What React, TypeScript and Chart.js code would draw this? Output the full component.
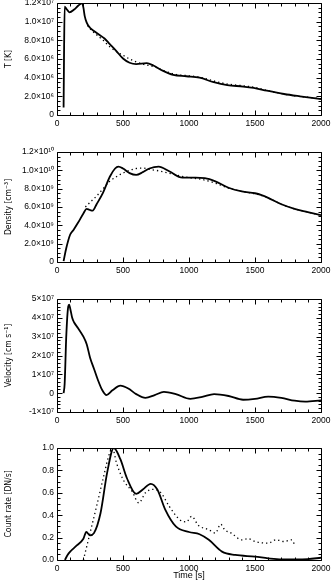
import React, { useEffect, useRef } from 'react';
import { Chart, registerables } from 'chart.js';
Chart.register(...registerables);

// ---------- Data ----------
// Panel 1: temperature (K)
const tempSolidTime = [50, 53, 58, 70, 95, 130, 160, 190, 200, 210, 225, 250, 280, 320, 360, 400, 450, 500, 550, 600, 680, 730, 800, 880, 980, 1080, 1180, 1290, 1410, 1490, 1590, 1720, 1840, 2000];
const tempSolidValue = [0.8e6, 6.0e6, 11.6e6, 11.4e6, 11.0e6, 11.3e6, 11.7e6, 12.0e6, 11.5e6, 10.6e6, 9.9e6, 9.35e6, 9.0e6, 8.6e6, 8.2e6, 7.6e6, 6.85e6, 6.05e6, 5.6e6, 5.45e6, 5.55e6, 5.3e6, 4.75e6, 4.3e6, 4.15e6, 4.0e6, 3.55e6, 3.2e6, 3.05e6, 2.9e6, 2.6e6, 2.25e6, 2.0e6, 1.7e6];
const tempDottedTime = [230, 260, 300, 350, 400, 450, 500, 550, 600, 650, 700, 750, 800, 900, 1000, 1100, 1200, 1300, 1400, 1500, 1600, 1700, 1800, 1900, 2000];
const tempDottedValue = [9.6e6, 9.1e6, 8.6e6, 8.0e6, 7.3e6, 6.8e6, 6.4e6, 6.0e6, 5.7e6, 5.45e6, 5.3e6, 5.1e6, 4.8e6, 4.35e6, 4.2e6, 4.0e6, 3.6e6, 3.3e6, 3.15e6, 2.95e6, 2.6e6, 2.3e6, 2.05e6, 1.9e6, 1.75e6];
const tempTickValues = [0, 2e6, 4e6, 6e6, 8e6, 1e7, 1.2e7];
const tempTickLabels = ['0', '2.0×10⁶', '4.0×10⁶', '6.0×10⁶', '8.0×10⁶', '1.0×10⁷', '1.2×10⁷'];

// Panel 2: density (cm^-3)
const densSolidTime = [50, 70, 100, 125, 160, 200, 225, 245, 270, 300, 350, 400, 440, 465, 500, 550, 600, 650, 700, 770, 850, 950, 1050, 1120, 1200, 1300, 1400, 1500, 1550, 1600, 1700, 1800, 1900, 2000];
const densSolidValue = [0.1e9, 1.5e9, 3.0e9, 3.5e9, 4.3e9, 5.3e9, 5.8e9, 5.7e9, 5.6e9, 6.3e9, 7.6e9, 9.3e9, 10.2e9, 10.4e9, 10.2e9, 9.7e9, 9.5e9, 9.8e9, 10.2e9, 10.4e9, 9.9e9, 9.2e9, 9.2e9, 9.15e9, 8.8e9, 8.1e9, 7.7e9, 7.5e9, 7.3e9, 7.0e9, 6.3e9, 5.8e9, 5.45e9, 5.1e9];
const densDottedTime = [215, 250, 300, 350, 400, 450, 500, 550, 600, 650, 700, 750, 800, 900, 1000, 1100, 1200, 1300, 1400, 1500, 1600, 1700, 1800, 1900, 2000];
const densDottedValue = [6.0e9, 6.5e9, 7.2e9, 8.0e9, 8.8e9, 9.3e9, 9.7e9, 10.0e9, 10.2e9, 10.25e9, 10.1e9, 10.0e9, 9.85e9, 9.5e9, 9.2e9, 9.0e9, 8.6e9, 8.05e9, 7.7e9, 7.45e9, 7.0e9, 6.3e9, 5.8e9, 5.45e9, 5.1e9];
const densTickValues = [0, 2e9, 4e9, 6e9, 8e9, 1e10, 1.2e10];
const densTickLabels = ['0', '2.0×10⁹', '4.0×10⁹', '6.0×10⁹', '8.0×10⁹', '1.0×10¹⁰', '1.2×10¹⁰'];

// Panel 3: velocity (cm/s)
const velTime = [50, 58, 70, 85, 92, 100, 115, 130, 160, 200, 225, 250, 280, 310, 340, 375, 420, 480, 540, 600, 670, 740, 810, 900, 1010, 1100, 1190, 1300, 1410, 1500, 1600, 1700, 1800, 1880, 2000];
const velValue = [0, 0.5e7, 3.0e7, 4.6e7, 4.7e7, 4.5e7, 4.0e7, 3.75e7, 3.45e7, 3.0e7, 2.6e7, 1.9e7, 1.3e7, 0.7e7, 0.2e7, -0.1e7, 0.15e7, 0.4e7, 0.25e7, -0.05e7, -0.25e7, -0.1e7, 0.07e7, -0.05e7, -0.3e7, -0.2e7, -0.05e7, -0.15e7, -0.35e7, -0.3e7, -0.18e7, -0.25e7, -0.4e7, -0.45e7, -0.38e7];
const velTickValues = [-1e7, 0, 1e7, 2e7, 3e7, 4e7, 5e7];
const velTickLabels = ['-1×10⁷', '0', '1×10⁷', '2×10⁷', '3×10⁷', '4×10⁷', '5×10⁷'];

// Panel 4: count rate (DN/s, normalised)
const rateSolidTime = [60, 80, 100, 150, 200, 222, 250, 280, 330, 380, 430, 480, 530, 600, 650, 710, 760, 820, 900, 1000, 1080, 1150, 1250, 1350, 1500, 1600, 1700, 1800, 1900, 2000];
const rateSolidValue = [0, 0.045, 0.075, 0.13, 0.19, 0.25, 0.22, 0.24, 0.42, 0.78, 1.0, 0.9, 0.73, 0.59, 0.63, 0.68, 0.63, 0.45, 0.30, 0.25, 0.23, 0.18, 0.075, 0.045, 0.03, 0.015, 0.006, 0.006, 0.008, 0.02];
const rateDottedTime = [200, 250, 300, 350, 400, 420, 450, 500, 570, 620, 670, 720, 780, 850, 930, 980, 1020, 1070, 1150, 1200, 1240, 1270, 1320, 1400, 1450, 1500, 1600, 1660, 1720, 1780, 1800];
const rateDottedValue = [0, 0.24, 0.48, 0.73, 0.96, 1.0, 0.87, 0.72, 0.61, 0.51, 0.60, 0.63, 0.61, 0.48, 0.36, 0.34, 0.39, 0.31, 0.27, 0.24, 0.32, 0.27, 0.24, 0.18, 0.19, 0.165, 0.15, 0.18, 0.165, 0.18, 0.135];
const rateTickValues = [0, 0.2, 0.4, 0.6, 0.8, 1.0];
const rateTickLabels = ['0.0', '0.2', '0.4', '0.6', '0.8', '1.0'];

const timeTickValues = [0, 500, 1000, 1500, 2000];
const timeTickLabels = ['0', '500', '1000', '1500', '2000'];

// ---------- Helpers ----------
const zip = (xs: number[], ys: number[]) => xs.map((x, i) => ({ x, y: ys[i] }));

const FONT = "'Liberation Sans', Arial, sans-serif";
const NARROW = "'Liberation Sans Narrow', 'DejaVu Sans Condensed', 'Liberation Sans', sans-serif";

type TickCfg = { xMajor: number; xMinor: number; yMajor: number; yMinor: number };

function makeFramePlugin(cfg: TickCfg) {
  return {
    id: 'idlFrame',
    afterDatasetsDraw(chart: any) {
      const { ctx, chartArea: a, scales } = chart;
      const xs = scales.x, ys = scales.y;
      const L0 = Math.round(a.left) + 0.5, R0 = Math.round(a.right) + 0.5;
      const T0 = Math.round(a.top) + 0.5, B0 = Math.round(a.bottom) + 0.5;
      ctx.save();
      ctx.setLineDash([]);
      ctx.strokeStyle = '#000';
      ctx.lineWidth = 1;
      ctx.beginPath();
      ctx.moveTo(L0, T0); ctx.lineTo(R0, T0); ctx.lineTo(R0, B0); ctx.lineTo(L0, B0); ctx.closePath();
      const eps = 1e-6;
      const nx = Math.round((xs.max - xs.min) / cfg.xMinor);
      for (let i = 0; i <= nx; i++) {
        const v = xs.min + i * cfg.xMinor;
        const px = Math.round(xs.getPixelForValue(v)) + 0.5;
        const r = v / cfg.xMajor;
        const major = Math.abs(r - Math.round(r)) < eps;
        const L = major ? 5 : 3;
        ctx.moveTo(px, B0); ctx.lineTo(px, B0 - L);
        ctx.moveTo(px, T0); ctx.lineTo(px, T0 + L);
      }
      const ny = Math.round((ys.max - ys.min) / cfg.yMinor);
      for (let i = 0; i <= ny; i++) {
        const v = ys.min + i * cfg.yMinor;
        const py = Math.round(ys.getPixelForValue(v)) + 0.5;
        const r = v / cfg.yMajor;
        const major = Math.abs(r - Math.round(r)) < eps;
        const L = major ? 5 : 3;
        ctx.moveTo(L0, py); ctx.lineTo(L0 + L, py);
        ctx.moveTo(R0, py); ctx.lineTo(R0 - L, py);
      }
      ctx.stroke();
      ctx.restore();
    },
  };
}

type Spec = {
  top: number;
  padTop: number;
  plotH: number;
  xAxisH: number;
  yMin: number;
  yMax: number;
  yTicks: number[];
  yLabels: string[];
  yMajor: number;
  yMinor: number;
  yTitle: string;
  xTitle?: string;
  datasets: any[];
};

const solidStyle = { borderColor: '#000', borderWidth: 1.8, pointRadius: 0, fill: false, cubicInterpolationMode: 'monotone' as const };
const dottedStyle = { borderColor: '#000', borderWidth: 1.3, borderDash: [1.3, 3], pointRadius: 0, fill: false, cubicInterpolationMode: 'monotone' as const };

const specs: Spec[] = [
  {
    top: 0, padTop: 3, plotH: 112, xAxisH: 20,
    yMin: 0, yMax: 1.2e7, yTicks: tempTickValues, yLabels: tempTickLabels, yMajor: 2e6, yMinor: 5e5,
    yTitle: 'T [K]',
    datasets: [
      { ...solidStyle, data: zip(tempSolidTime, tempSolidValue) },
      { ...dottedStyle, data: zip(tempDottedTime, tempDottedValue) },
    ],
  },
  {
    top: 142, padTop: 10, plotH: 110, xAxisH: 20,
    yMin: 0, yMax: 1.2e10, yTicks: densTickValues, yLabels: densTickLabels, yMajor: 2e9, yMinor: 5e8,
    yTitle: 'Density [cm⁻³]',
    datasets: [
      { ...solidStyle, data: zip(densSolidTime, densSolidValue) },
      { ...dottedStyle, data: zip(densDottedTime, densDottedValue) },
    ],
  },
  {
    top: 289, padTop: 10, plotH: 113, xAxisH: 20,
    yMin: -1e7, yMax: 5e7, yTicks: velTickValues, yLabels: velTickLabels, yMajor: 1e7, yMinor: 2e6,
    yTitle: 'Velocity [cm s⁻¹]',
    datasets: [
      { ...solidStyle, data: zip(velTime, velValue) },
    ],
  },
  {
    top: 438, padTop: 10, plotH: 112, xAxisH: 21,
    yMin: 0, yMax: 1.0, yTicks: rateTickValues, yLabels: rateTickLabels, yMajor: 0.2, yMinor: 0.05,
    yTitle: 'Count rate [DN/s]', xTitle: 'Time [s]',
    datasets: [
      { ...solidStyle, data: zip(rateSolidTime, rateSolidValue) },
      { ...dottedStyle, data: zip(rateDottedTime, rateDottedValue) },
    ],
  },
];

function Panel({ spec }: { spec: Spec }) {
  const ref = useRef<HTMLCanvasElement>(null);
  const height = spec.padTop + spec.plotH + spec.xAxisH;
  useEffect(() => {
    const chart = new Chart(ref.current as HTMLCanvasElement, {
      type: 'line',
      data: { datasets: spec.datasets },
      plugins: [makeFramePlugin({ xMajor: 500, xMinor: 100, yMajor: spec.yMajor, yMinor: spec.yMinor })],
      options: {
        animation: false,
        responsive: false,
        devicePixelRatio: 1,
        layout: { padding: { top: spec.padTop, right: 11, left: 0, bottom: 0 } },
        plugins: {
          legend: { display: false },
          tooltip: { enabled: false },
        },
        scales: {
          x: {
            type: 'linear',
            min: 0,
            max: 2000,
            grid: { display: false, drawTicks: false },
            border: { display: false },
            afterBuildTicks: (s: any) => { s.ticks = timeTickValues.map((v) => ({ value: v })); },
            afterFit: (s: any) => { s.height = spec.xAxisH; s.paddingLeft = 0; s.paddingRight = 0; },
            ticks: {
              color: '#000',
              padding: 4,
              maxRotation: 0,
              autoSkip: false,
              font: { family: FONT, size: 8.5 },
              callback: (_v: any, i: number) => timeTickLabels[i],
            },
            title: spec.xTitle
              ? { display: true, text: spec.xTitle, color: '#000', padding: 0, font: { family: FONT, size: 9 } }
              : { display: false },
          },
          y: {
            type: 'linear',
            min: spec.yMin,
            max: spec.yMax,
            grid: { display: false, drawTicks: false },
            border: { display: false },
            afterBuildTicks: (s: any) => { s.ticks = spec.yTicks.map((v) => ({ value: v })); },
            afterFit: (s: any) => { s.width = 57; s.paddingTop = 0; s.paddingBottom = 0; },
            ticks: {
              color: '#000',
              padding: 3,
              autoSkip: false,
              font: { family: FONT, size: 8.5 },
              callback: (_v: any, i: number) => spec.yLabels[i],
            },
            title: { display: true, text: spec.yTitle, color: '#000', padding: { top: 4, bottom: 0 }, font: { family: NARROW, size: 8.5 } },
          },
        },
      } as any,
    });
    return () => chart.destroy();
  }, []);
  return (
    <canvas
      ref={ref}
      width={332}
      height={height}
      style={{ position: 'absolute', left: 0, top: spec.top, width: 332, height }}
    />
  );
}

export default function App() {
  return (
    <div style={{ position: 'fixed', left: 0, top: 0, width: 332, height: 581, background: '#fff', overflow: 'hidden' }}>
      {specs.map((s, i) => (
        <Panel key={i} spec={s} />
      ))}
    </div>
  );
}
